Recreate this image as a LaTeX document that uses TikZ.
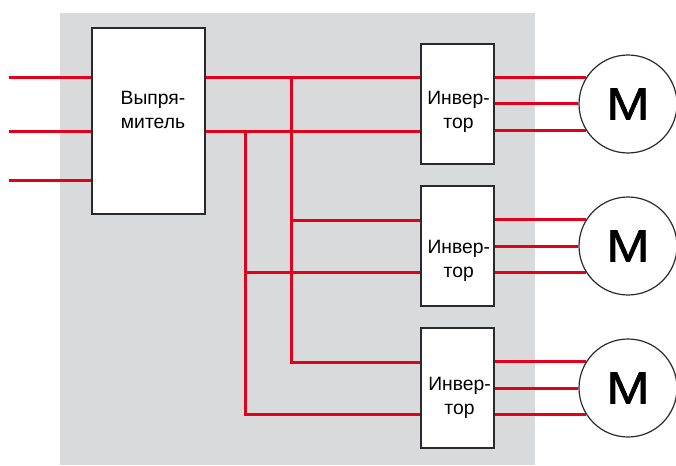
\documentclass[tikz,border=0pt]{standalone}
\usepackage{fontspec}
\setmainfont{Liberation Sans}
\newfontfamily\motorfont[FakeBold=1.3]{Liberation Sans}
\definecolor{panel}{HTML}{D9DADC}
\definecolor{wire}{HTML}{E2001A}
\definecolor{ink}{HTML}{2A2A2C}
\newcommand\boxtext[3]{\makebox[0pt][c]{\hspace*{#1}\raisebox{#2}[0pt][0pt]{\parbox[c]{100pt}{\centering #3}}}}
\tikzset{
  box/.style={draw=ink,fill=white,line width=1.4pt,rectangle,inner sep=0pt,font=\fontsize{19.3}{24}\selectfont},
  invbox/.style={box,minimum width=73pt,minimum height=120pt},
  motor/.style={draw=ink,fill=white,line width=1.2pt,circle,inner sep=0pt,minimum size=98pt,font=\motorfont\fontsize{45}{45}\selectfont},
  wireline/.style={draw=wire,line width=3pt}
}
\begin{document}
\begin{tikzpicture}[x=1pt,y=-1pt]
\useasboundingbox (0,0) rectangle (676,465);
\fill[panel] (60,13) rectangle (535,465);
% junction and free-end coordinates
\coordinate (in1) at (9,78);
\coordinate (in2) at (9,131.5);
\coordinate (in3) at (9,180);
\coordinate (busa) at (291,78);
\coordinate (busb) at (245.5,131.5);
\node[box,minimum width=113pt,minimum height=186pt] (rect) at (148.5,121) {\boxtext{9pt}{5.5pt}{Выпря-\\митель}};
\node[invbox] (inv1) at (457.5,104) {\boxtext{2pt}{-13pt}{Инвер-\\тор}};
\node[invbox] (inv2) at (457.5,246) {\boxtext{2.5pt}{-20pt}{Инвер-\\тор}};
\node[invbox] (inv3) at (457.5,388) {\boxtext{4pt}{-15pt}{Инвер-\\тор}};
\node[motor] (m1) at (628,104) {\scalebox{1.15}[1]{М}};
\node[motor] (m2) at (628,246) {\scalebox{1.15}[1]{М}};
\node[motor] (m3) at (628,388) {\scalebox{1.15}[1]{М}};
% rectifier inputs
\foreach \c in {in1,in2,in3} \draw[wireline] (\c) -- (rect.west |- \c);
% DC bus
\draw[wireline] (rect.east |- in1) -- (inv1.west |- in1);
\draw[wireline] (rect.east |- in2) -- (inv1.west |- in2);
\draw[wireline] (busa) -- (busa |- 0,362) -- (inv3.west |- 0,362);
\draw[wireline] (busb) -- (busb |- 0,414) -- (inv3.west |- 0,414);
\draw[wireline] (busa |- 0,220) -- (inv2.west |- 0,220);
\draw[wireline] (busb |- 0,272) -- (inv2.west |- 0,272);
% inverter outputs
\foreach \i in {1,2,3}{
  \draw[wireline] (inv\i.east |- m\i.148) -- (m\i.148);
  \draw[wireline] (inv\i.east |- m\i.west) -- (m\i.west);
  \draw[wireline] (inv\i.east |- m\i.212) -- (m\i.212);
}
\end{tikzpicture}
\end{document}
